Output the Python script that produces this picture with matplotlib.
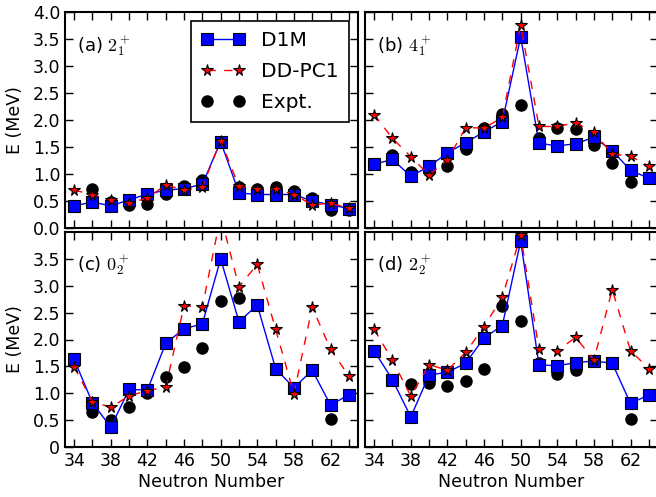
import matplotlib
matplotlib.use('Agg')
import matplotlib.pyplot as plt
import numpy as np

nan = np.nan
neutrons = list(range(34, 65, 2))

# panel (a) 2_1+
d1m_a = [0.41, 0.48, 0.41, 0.52, 0.63, 0.70, 0.73, 0.81, 1.60, 0.65, 0.62, 0.62, 0.62, 0.50, 0.43, 0.36]
ddpc_a = [0.70, 0.62, 0.52, 0.47, 0.55, 0.80, 0.70, 0.76, 1.62, 0.77, 0.73, 0.72, 0.62, 0.43, 0.46, 0.37]
expt_a = [nan, 0.72, 0.49, 0.42, 0.45, 0.63, 0.78, 0.88, 1.59, 0.76, 0.72, 0.76, 0.68, 0.56, 0.33, 0.33]

# panel (b) 4_1+
d1m_b = [1.18, 1.27, 0.96, 1.14, 1.39, 1.58, 1.78, 1.97, 3.54, 1.57, 1.52, 1.56, 1.68, 1.43, 1.07, 0.92]
ddpc_b = [2.10, 1.66, 1.32, 0.98, 1.26, 1.86, 1.85, 2.05, 3.76, 1.88, 1.88, 1.95, 1.77, 1.37, 1.33, 1.15]
expt_b = [nan, 1.35, 1.04, 1.06, 1.15, 1.46, 1.85, 2.12, 2.28, 1.66, 1.86, 1.83, 1.54, 1.20, 0.86, nan]

# panel (c) 0_2+
d1m_c = [1.63, 0.82, 0.37, 1.07, 1.06, 1.93, 2.20, 2.29, 3.50, 2.33, 2.64, 1.46, 1.10, 1.43, 0.78, 0.97]
ddpc_c = [1.49, 0.84, 0.74, 0.95, 1.05, 1.11, 2.63, 2.60, 4.30, 2.98, 3.40, 2.19, 0.99, 2.60, 1.82, 1.32]
expt_c = [nan, 0.65, 0.50, 0.75, 1.00, 1.31, 1.48, 1.84, 2.72, 2.78, nan, nan, nan, nan, 0.52, nan]

# panel (d) 2_2+
d1m_d = [1.79, 1.25, 0.56, 1.34, 1.39, 1.56, 2.03, 2.26, 3.83, 1.53, 1.51, 1.57, 1.60, 1.56, 0.81, 0.97]
ddpc_d = [2.19, 1.61, 0.95, 1.53, 1.43, 1.76, 2.24, 2.79, 3.94, 1.82, 1.79, 2.04, 1.62, 2.93, 1.79, 1.46]
expt_d = [nan, nan, 1.18, 1.20, 1.13, 1.23, 1.46, 2.62, 2.35, 1.57, 1.35, 1.44, nan, nan, 0.52, nan]

panels = [
    ('(a) $2_1^+$', d1m_a, ddpc_a, expt_a),
    ('(b) $4_1^+$', d1m_b, ddpc_b, expt_b),
    ('(c) $0_2^+$', d1m_c, ddpc_c, expt_c),
    ('(d) $2_2^+$', d1m_d, ddpc_d, expt_d),
]

plt.rcParams['mathtext.fontset'] = 'cm'
plt.rcParams['font.size'] = 12

fig = plt.figure(figsize=(6.56, 4.97), dpi=100)
W, H = 656.0, 497.0
# axes boxes in pixels: left, top, right, bottom
boxes = [(65, 12, 358, 228), (365, 12, 658, 228),
         (65, 232, 358, 447), (365, 232, 658, 447)]

axes = []
for i, (label, d1m, ddpc, expt) in enumerate(panels):
    l, t, r, b = boxes[i]
    ax = fig.add_axes([l / W, (H - b) / H, (r - l) / W, (b - t) / H])
    axes.append(ax)
    ax.plot(neutrons, d1m, color='blue', lw=1.0, marker='s', ms=9,
            mfc='blue', mec='black', mew=0.8, label='D1M', zorder=3)
    ax.plot(neutrons, ddpc, color='red', lw=1.0, ls=(0, (6, 6)), marker='*', ms=8.5,
            mfc='red', mec='black', mew=0.8, label='DD-PC1', zorder=4)
    ax.plot(neutrons, expt, color='black', ls='none', marker='o', ms=8,
            label='Expt.', zorder=2)

    ax.set_xlim(33, 65)
    ax.set_ylim(0, 4.0)
    ax.set_xticks(range(34, 65, 4))
    ax.set_xticks(range(36, 65, 4), minor=True)
    ax.tick_params(which='both', direction='in', top=True, right=True,
                   length=6, width=1.0, labelsize=12.5)
    for sp in ax.spines.values():
        sp.set_linewidth(1.5)

    ax.text(0.04, 0.82, label, transform=ax.transAxes, fontsize=13)

    if i < 2:
        ax.set_yticks(np.arange(0, 4.01, 0.5))
        ax.set_yticklabels(['%.1f' % v for v in np.arange(0, 4.01, 0.5)])
        ax.set_xticklabels([])
    else:
        ax.set_yticks(np.arange(0, 3.51, 0.5))
        ax.set_yticklabels(['0'] + ['%.1f' % v for v in np.arange(0.5, 3.51, 0.5)])
        ax.set_xlabel('Neutron Number', fontsize=12.5, labelpad=2)
    if i % 2 == 0:
        ax.set_ylabel('E (MeV)', fontsize=12.5, labelpad=6)
    else:
        ax.set_yticklabels([])

leg = axes[0].legend(loc='upper right', bbox_to_anchor=(0.969, 0.958),
                     borderaxespad=0, numpoints=2, fontsize=14.5, fancybox=False,
                     framealpha=1, edgecolor='black', handlelength=2.2,
                     labelspacing=0.6, borderpad=0.5)
leg.get_frame().set_linewidth(1.2)

plt.savefig('out.png', dpi=100)
plt.close()
